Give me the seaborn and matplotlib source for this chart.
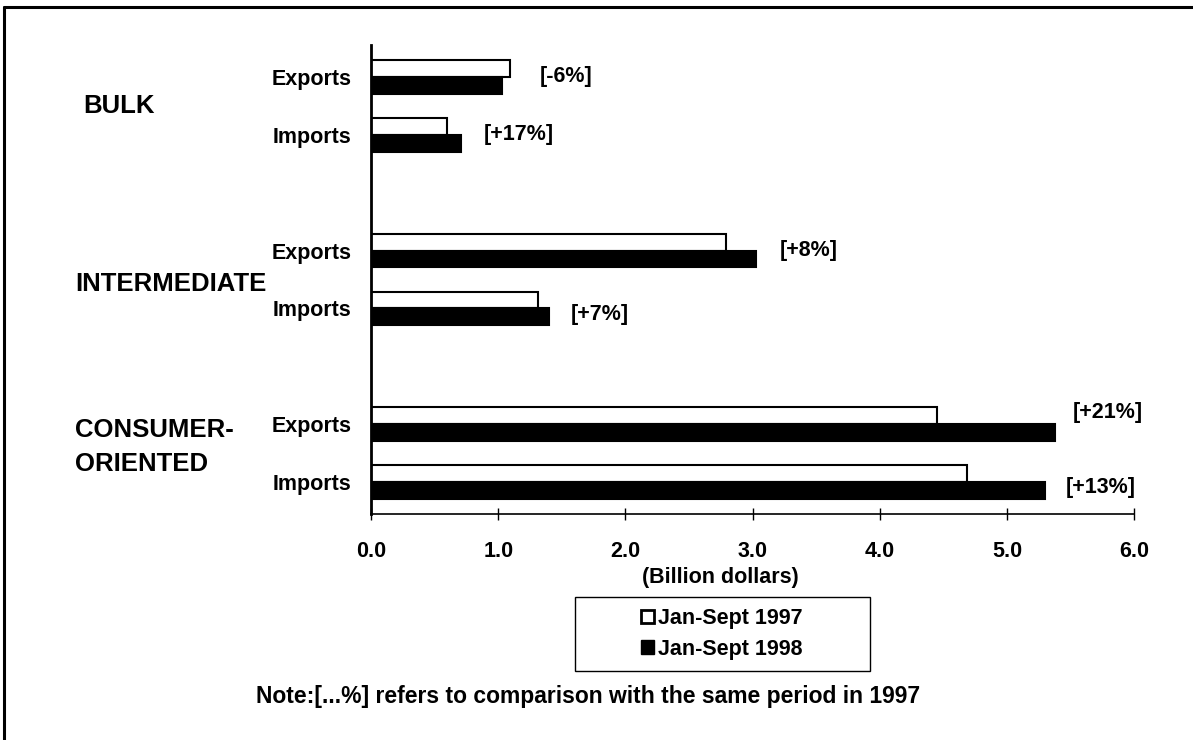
import numpy as np
import pandas as pd
import matplotlib.pyplot as plt
import seaborn as sns
from matplotlib.lines import Line2D
from matplotlib.patches import Rectangle
from matplotlib.transforms import blended_transform_factory

groups = ['BULK', 'INTERMEDIATE', 'CONSUMER-\nORIENTED']
flows = ['Exports', 'Imports']
periods = ['Jan-Sept 1997', 'Jan-Sept 1998']
values_1997 = [1.09, 0.60, 2.79, 1.31, 4.45, 4.69]
values_1998 = [1.03, 0.71, 3.03, 1.40, 5.38, 5.30]
changes = ['[-6%]', '[+17%]', '[+8%]', '[+7%]', '[+21%]', '[+13%]']

rows = []
for i, g in enumerate(groups):
    for j, f in enumerate(flows):
        k = i * 2 + j
        for p, vals in zip(periods, [values_1997, values_1998]):
            rows.append({'group': g, 'flow': f, 'period': p,
                         'value': vals[k], 'pos': i * 3 + j})
df = pd.DataFrame(rows)

sns.set_theme(style="white")
plt.rcParams['font.family'] = ['Liberation Sans', 'DejaVu Sans']
plt.rcParams['font.weight'] = 'bold'
plt.rcParams['text.color'] = 'black'
plt.rcParams['axes.labelcolor'] = 'black'
plt.rcParams['xtick.color'] = 'black'
plt.rcParams['ytick.color'] = 'black'

fig = plt.figure(figsize=(11.93, 7.40), dpi=100)
ax = fig.add_axes([0.311, 0.3054, 0.6396, 0.6338])

sns.barplot(data=df, x='value', y='pos', hue='period', orient='y',
            native_scale=True, width=0.58,
            palette={'Jan-Sept 1997': 'white', 'Jan-Sept 1998': 'black'},
            edgecolor='black', linewidth=1.5, errorbar=None, legend=False, ax=ax)

positions = sorted(df['pos'].unique())
ax.set_ylim(7.55, -0.55)
ax.set_xlim(0, 6)
ax.set_yticks(positions)
ax.set_yticklabels(flows * len(groups), fontsize=15.5, fontweight='bold')
ax.set_xticks(np.arange(0, 7, 1))
ax.set_xticklabels([f'{v:.1f}' for v in np.arange(0, 7, 1)], fontsize=15.5, fontweight='bold')
ax.tick_params(axis='x', bottom=True, direction='inout', length=8.6, width=1,
               pad=15, color='black', labelcolor='black')
ax.tick_params(axis='y', left=False, length=0, pad=14, labelcolor='black')
ax.set_xlabel('')
ax.set_ylabel('')
for s in ['top', 'right']:
    ax.spines[s].set_visible(False)
for s in ['left', 'bottom']:
    ax.spines[s].set_color('black')
ax.spines['left'].set_linewidth(2)
ax.spines['bottom'].set_linewidth(1.2)

# percentage change labels
label_x = [1.33, 0.89, 3.21, 1.57, 5.52, 5.46]
label_y = [0.0, 1.0, 3.0, 4.1, 5.8, 7.1]
for t, lx, ly in zip(changes, label_x, label_y):
    ax.text(lx, ly, t, fontsize=15.5, fontweight='bold', va='center', ha='left')

# group labels
group_y = [0.5, 3.58, 6.39]
group_x = [83 / 1193, 75 / 1193, 75 / 1193]
trans = blended_transform_factory(fig.transFigure, ax.transData)
for g, gx, gy in zip(groups, group_x, group_y):
    ax.text(gx, gy, g, transform=trans, fontsize=18.5, fontweight='bold',
            va='center', ha='left', linespacing=1.55)

fig.text(720 / 1193, 1 - 578 / 740, '(Billion dollars)', fontsize=15.5,
         fontweight='bold', ha='center', va='center')

# legend
fig.patches.append(Rectangle((575 / 1193, 1 - 671 / 740), 295 / 1193, 74 / 740,
                             transform=fig.transFigure, fill=False,
                             edgecolor='black', linewidth=1))
handles = [Rectangle((0, 0), 1, 1, facecolor='white', edgecolor='black', linewidth=2),
           Rectangle((0, 0), 1, 1, facecolor='black', edgecolor='black', linewidth=1)]
fig.legend(handles, periods, loc='center', bbox_to_anchor=(722 / 1193, 1 - 634 / 740),
           frameon=False, prop={'size': 15.5, 'weight': 'bold'},
           handlelength=0.6, handleheight=0.6, handletextpad=0.2, labelspacing=0.45)

fig.text(588 / 1193, 1 - 697 / 740,
         'Note:[...%] refers to comparison with the same period in 1997',
         fontsize=16.5, fontweight='bold', ha='center', va='center')

# outer frame
fig.lines.append(Line2D([0.0035, 0.0035], [0, 0.9905], transform=fig.transFigure,
                        color='black', linewidth=2.2))
fig.lines.append(Line2D([0.0035, 1], [0.9905, 0.9905], transform=fig.transFigure,
                        color='black', linewidth=2.2))

fig.savefig('out.png', dpi=100, facecolor='white')
